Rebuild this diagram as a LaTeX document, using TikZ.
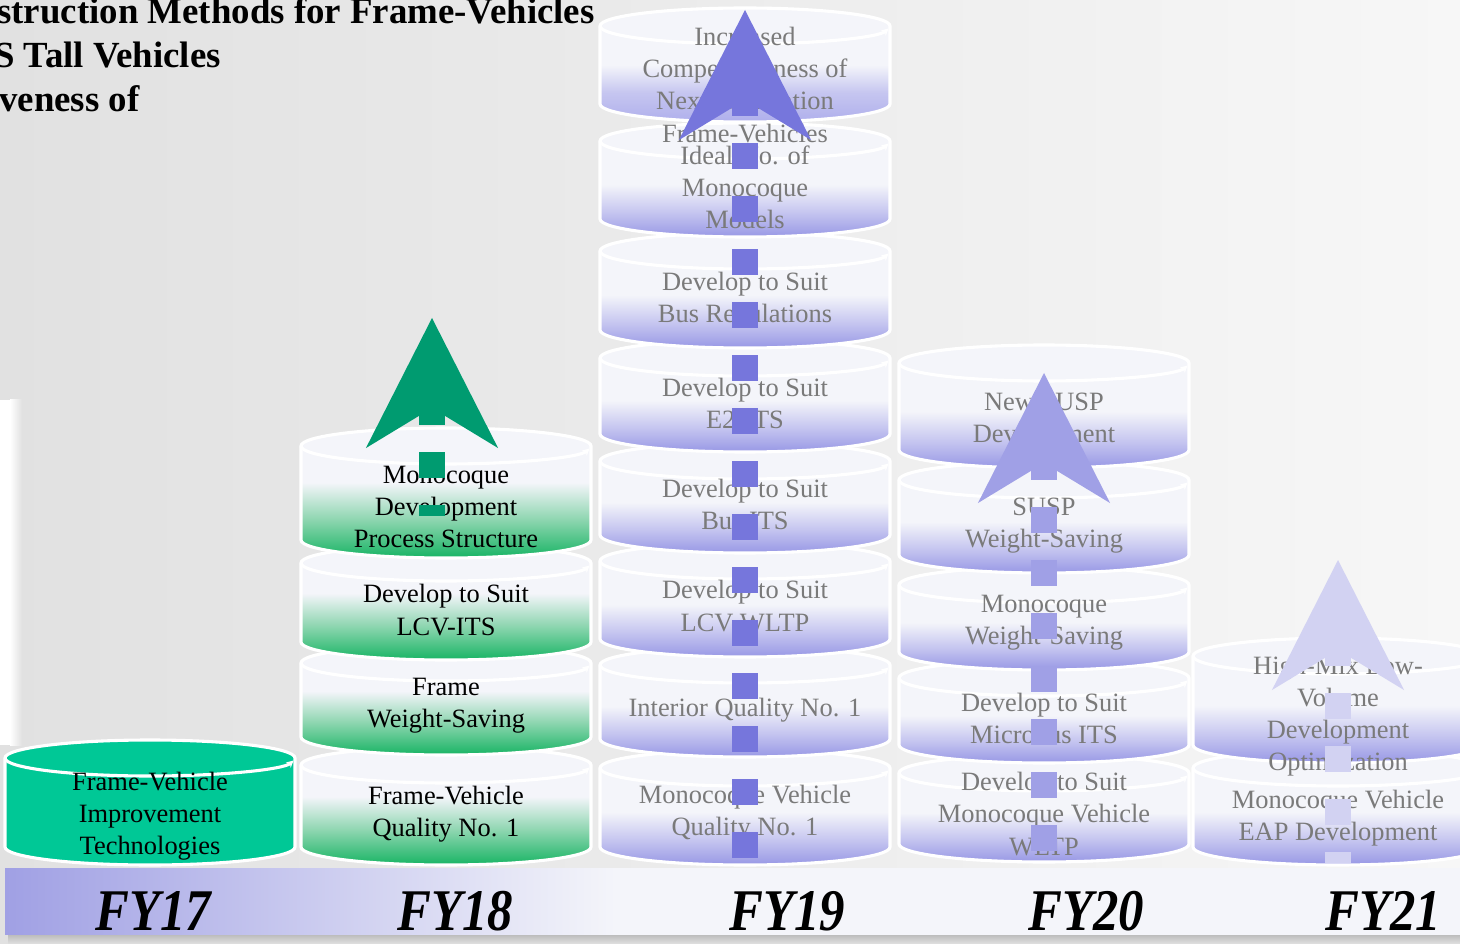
\documentclass[tikz,border=0pt]{standalone}
\usepackage{fontspec}
\setmainfont{Liberation Serif}
\usetikzlibrary{arrows.meta}

\definecolor{bgdark}{RGB}{225,225,225}
\definecolor{bglight}{RGB}{247,247,247}
\definecolor{pale}{RGB}{244,245,250}
\definecolor{grn}{RGB}{24,180,100}
\definecolor{tealc}{RGB}{0,200,150}
\definecolor{lav}{RGB}{152,152,229}
\definecolor{lavlite}{RGB}{175,175,236}
\definecolor{barL}{RGB}{160,160,228}
\definecolor{grayt}{RGB}{122,122,122}
\definecolor{a18}{RGB}{0,155,112}
\definecolor{a19}{RGB}{118,118,220}
\definecolor{a20}{RGB}{160,160,230}
\definecolor{a21}{RGB}{210,210,242}
\definecolor{grnmid}{RGB}{143,214,177}
\definecolor{lavmid}{RGB}{198,198,240}

\pgfdeclareverticalshading{tealcyl}{100bp}{color(0bp)=(tealc); color(100bp)=(tealc)}
\pgfdeclareverticalshading{greencyl}{100bp}{color(0bp)=(grn); color(25bp)=(grn); color(40bp)=(grnmid); color(54bp)=(pale); color(100bp)=(pale)}
\pgfdeclareverticalshading{lavcyl}{100bp}{color(0bp)=(lav); color(25bp)=(lav); color(36bp)=(lavmid); color(48bp)=(pale); color(100bp)=(pale)}
\pgfdeclareverticalshading{lavfade}{100bp}{color(0bp)=(lavlite); color(25bp)=(lavlite); color(38bp)=(lavmid); color(50bp)=(pale); color(100bp)=(pale)}
\pgfdeclarehorizontalshading{barsh}{100bp}{color(0bp)=(barL); color(25bp)=(barL); color(46bp)=(pale); color(100bp)=(pale)}

\tikzset{
  rim/.style={white, line width=2.2pt},
  lbl/.style={align=center, inner sep=0pt, font=\fontsize{18.8}{22.8}\selectfont},
  ttl/.style={anchor=base west, inner sep=0pt, font=\fontsize{26.2}{31}\bfseries\selectfont},
  yr/.style={anchor=base, inner sep=0pt, font=\fontsize{42}{44}\bfseries\itshape\selectfont},
  riser/.style={line width=18.5pt, dash pattern=on 18.5pt off 19.2pt,
    -{Stealth[length=92.5pt, width=94pt, inset=28.5pt, line width=0pt]}}
}

% one drum of a stack: centre x, top y, bottom y, text y, shading, text colour, name, text
\newcommand{\drum}[8]{%
  \shade[shading=#5]
      (#1-145,#2+18) arc[start angle=180, end angle=360, x radius=145, y radius=18]
      -- (#1+145,#3-18) arc[start angle=0, end angle=180, x radius=145, y radius=18]
      -- cycle;
  \draw[rim]
      (#1-145,#2+18) arc[start angle=180, end angle=360, x radius=145, y radius=18]
      -- (#1+145,#3-18) arc[start angle=0, end angle=180, x radius=145, y radius=18]
      -- cycle;
  \draw[rim, -{Stealth[length=5pt, width=5pt]}]
      (#1-145,#2+18) arc[start angle=180, end angle=8, x radius=145, y radius=18];
  \node[lbl, text=#6] (#7) at (#1,#4) {#8};
}

\begin{document}
\begin{tikzpicture}[x=0.025cm, y=-0.025cm]

    \useasboundingbox (0,0) rectangle (1460,944);
    \clip (0,0) rectangle (1460,944);

    % Background
    \shade[left color=bgdark, right color=bglight] (0,0) rectangle (1460,944);
    \fill[white] (0,400) rectangle (10,745);
    \shade[left color=white, right color=bgdark] (10,400) rectangle (22,745);

    % Title
    \node[ttl] (ttl1) at (-3,24) {struction Methods for Frame-Vehicles};
    \node[ttl] (ttl2) at (-6,68) {S Tall Vehicles};
    \node[ttl] (ttl3) at (-1,112) {veness of};

    % Year bar
    \shade[top color=gray!55, bottom color=bgdark] (8,934) rectangle (1460,944);
    \shade[shading=barsh] (5,868) rectangle (1460,934);
    \node[yr] (fy17) at (153,930) {\scalebox{0.86}[1]{FY17}};
    \node[yr] (fy18) at (455,930) {\scalebox{0.86}[1]{FY18}};
    \node[yr] (fy19) at (787,930) {\scalebox{0.86}[1]{FY19}};
    \node[yr] (fy20) at (1086,930) {\scalebox{0.86}[1]{FY20}};
    \node[yr] (fy21) at (1383,930) {\scalebox{0.86}[1]{FY21}};

    % FY17
    \drum{150}{740}{865}{816}{tealcyl}{black}{improve}{Frame-Vehicle\\Improvement\\Technologies}

    % FY18, bottom first
    \drum{446}{747}{865}{814}{greencyl}{black}{fvquality}{Frame-Vehicle\\Quality No. 1}
    \drum{446}{645}{755}{706}{greencyl}{black}{framews}{Frame\\Weight-Saving}
    \drum{446}{545}{660}{610}{greencyl}{black}{lcvits}{Develop to Suit\\LCV-ITS}
    \drum{446}{428}{558}{507}{greencyl}{black}{monoproc}{Monocoque\\Development\\Process Structure}

    % FY19
    \drum{745}{750}{865}{813}{lavcyl}{grayt}{mvquality}{Monocoque Vehicle\\Quality No. 1}
    \drum{745}{647}{757}{710}{lavcyl}{grayt}{interior}{Interior Quality No. 1}
    \drum{745}{543}{657}{606}{lavcyl}{grayt}{lcvwltp}{Develop to Suit\\LCV-WLTP}
    \drum{745}{443}{553}{504}{lavcyl}{grayt}{busits}{Develop to Suit\\Bus ITS}
    \drum{745}{340}{452}{403}{lavcyl}{grayt}{etwoits}{Develop to Suit\\E2-ITS}
    \drum{745}{233}{348}{300}{lavcyl}{grayt}{busreg}{Develop to Suit\\Bus Regulations}
    \drum{745}{123}{237}{187}{lavcyl}{grayt}{idealno}{Ideal No. of\\Monocoque\\Models}
    \drum{745}{8}{122}{85}{lavfade}{grayt}{nextgen}{Increased\\Competitiveness of\\Next-Generation\\Frame-Vehicles}

    % FY20
    \drum{1044}{755}{862}{814}{lavcyl}{grayt}{mvwltp}{Develop to Suit\\Monocoque Vehicle\\WLTP}
    \drum{1044}{660}{763}{718}{lavcyl}{grayt}{microits}{Develop to Suit\\Microbus ITS}
    \drum{1044}{567}{670}{623}{lavcyl}{grayt}{monows}{Monocoque\\Weight-Saving}
    \drum{1044}{462}{573}{526}{lavcyl}{grayt}{suspws}{SUSP\\Weight-Saving}
    \drum{1044}{345}{468}{421}{lavcyl}{grayt}{newsusp}{New SUSP\\Development}

    % FY21
    \drum{1338}{750}{865}{818}{lavcyl}{grayt}{eapdev}{Monocoque Vehicle\\EAP Development}
    \drum{1338}{638}{763}{716}{lavcyl}{grayt}{highmix}{High-Mix Low-\\Volume\\Development\\Optimization}

    % Rising arrows
    \coordinate (base18) at (432,516);
    \coordinate (tip18) at (432,318);
    \coordinate (base19) at (745,858);
    \coordinate (tip19) at (745,10);
    \coordinate (base20) at (1044,851);
    \coordinate (tip20) at (1044,373);
    \coordinate (base21) at (1338,863);
    \coordinate (tip21) at (1338,560);

    \draw[riser, a18, dash phase=10.7pt] (base18) -- (tip18);
    \draw[riser, a19] (base19) -- (tip19);
    \draw[riser, a20] (base20) -- (tip20);
    \draw[riser, a21, dash phase=10.7pt] (base21) -- (tip21);

\end{tikzpicture}
\end{document}
